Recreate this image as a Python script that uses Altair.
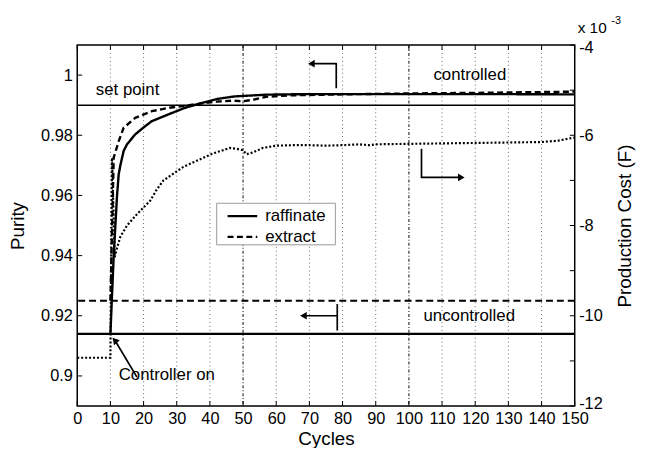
import altair as alt
import pandas as pd

# ---------------- data ----------------
raff_cycles = [10, 11, 12, 12.5, 13, 14, 15, 17.5, 20, 22.5, 27.4, 32.4, 37.4, 42.3, 47.3, 57, 70, 87, 120, 150]
raff_purity = [0.914, 0.940, 0.960, 0.967, 0.970, 0.9748, 0.977, 0.9803, 0.9826, 0.9847, 0.9869, 0.9891,
               0.9907, 0.9921, 0.9929, 0.9935, 0.9937, 0.9937, 0.9937, 0.9936]

ext_cycles = [10, 11, 12.5, 14, 17.5, 22.5, 27.4, 32.4, 37, 42, 47, 50, 53, 57, 65, 80, 100, 120, 150]
ext_purity = [0.925, 0.9726, 0.978, 0.9825, 0.9858, 0.988, 0.9891, 0.9898, 0.9905, 0.9912, 0.9915,
              0.9913, 0.9918, 0.9928, 0.9933, 0.9936, 0.9939, 0.9941, 0.9945]

cost_cycles = [0, 10, 10.5, 11.3, 12, 13, 15, 18, 20, 22, 24, 26, 28, 30, 32, 35, 38, 41, 44, 46, 48,
               50, 51, 53, 56, 60, 65, 70, 75, 80, 85, 88, 90, 100, 110, 120, 130, 140, 145, 150]
cost_value = [-10.93, -10.93, -6.5, -8.7, -8.5, -8.25, -8.0, -7.75, -7.6, -7.45, -7.2, -7.0, -6.9, -6.8,
              -6.7, -6.6, -6.5, -6.4, -6.33, -6.28, -6.3, -6.33, -6.42, -6.38, -6.28, -6.23, -6.22,
              -6.22, -6.23, -6.22, -6.2, -6.22, -6.2, -6.19, -6.18, -6.17, -6.16, -6.15, -6.12, -6.05]

uncontrolled_raff = 0.914
uncontrolled_ext = 0.925
set_point = 0.99

x_ticks = list(range(0, 151, 10))
yl_ticks = [0.90, 0.92, 0.94, 0.96, 0.98, 1.00]
yr_ticks = list(range(-12, -3))

legend_labels = ["raffinate", "extract"]

# annotations (data coordinates, purity scale)
arrow_seg = ["top", "top", "top", "right", "right", "right", "bot_v", "bot_v", "bot_h", "bot_h", "ctrl", "ctrl"]
arrow_ord = [0, 1, 2, 0, 1, 2, 0, 1, 0, 1, 0, 1]
arrow_x = [70.6, 78.1, 78.1, 103.8, 103.8, 115.8, 78.4, 78.4, 68.2, 78.4, 11.4, 18.0]
arrow_y = [1.0038, 1.0038, 0.9956, 0.9755, 0.9660, 0.9660, 0.9239, 0.9151, 0.9200, 0.9200, 0.9118, 0.8996]

head_x = [70.6, 115.8, 68.2, 11.3]
head_y = [1.0038, 0.9660, 0.9200, 0.9119]
head_shape = ["triangle-left", "triangle-right", "triangle-left", "triangle-up"]
head_angle = [0, 0, 0, 319]

text_label = ["set point", "controlled", "uncontrolled", "Controller on"]
text_x = [5.6, 107.4, 104.4, 12.5]
text_y = [0.9950, 1.0000, 0.9200, 0.9003]

# ---------------- frames ----------------
controlled = pd.concat([
    pd.DataFrame({"cycle": raff_cycles, "purity": raff_purity, "series": "raffinate"}),
    pd.DataFrame({"cycle": ext_cycles, "purity": ext_purity, "series": "extract"}),
])
cost_df = pd.DataFrame({"cycle": cost_cycles, "cost": cost_value})
grid_df = pd.DataFrame({"cycle": [c for c in x_ticks if 0 < c < 150]})
grid_df["major"] = grid_df["cycle"].isin([50, 100])
xt_df = pd.DataFrame({"cycle": x_ticks})
ylt_df = pd.DataFrame({"purity": yl_ticks})
yrt_df = pd.DataFrame({"cost": yr_ticks})
arrow_df = pd.DataFrame({"seg": arrow_seg, "ord": arrow_ord, "cycle": arrow_x, "purity": arrow_y})
head_df = pd.DataFrame({"cycle": head_x, "purity": head_y, "shape": head_shape, "angle": head_angle})
text_df = pd.DataFrame({"label": text_label, "cycle": text_x, "purity": text_y})

W, H = 503, 365
FONT = "Liberation Sans"
TICK_FS = 16.5

xs = alt.Scale(domain=[0, 150], nice=False, zero=False)
yls = alt.Scale(domain=[0.89, 1.01], nice=False, zero=False)
yrs = alt.Scale(domain=[-12, -4], nice=False, zero=False)

common = dict(grid=False, ticks=False, domain=False, labelOverlap=False,
              labelFontSize=TICK_FS, titleFontSize=19, titleFontWeight="normal",
              labelFont=FONT, titleFont=FONT, labelColor="black", titleColor="black")
x_axis = alt.Axis(values=x_ticks, title="Cycles", labelPadding=5, titlePadding=2, labelFlush=False, **common)
yl_axis = alt.Axis(values=yl_ticks, title="Purity", format=".2~f", labelPadding=5, titlePadding=13,
                   labelFlush=False, **common)
yr_axis = alt.Axis(values=yr_ticks, orient="right", title="Production Cost (F)",
                   labelExpr="datum.value % 2 == 0 ? datum.value : ''", labelFlush=True,
                   labelFlushOffset=5, labelPadding=4, titleAngle=270, titlePadding=33, **common)

X = alt.X("cycle:Q", scale=xs, axis=x_axis)
YL = alt.Y("purity:Q", scale=yls, axis=yl_axis)

grid = alt.Chart(grid_df).mark_rule(color="#444").encode(
    x=X,
    strokeDash=alt.condition("datum.major", alt.value([3, 2, 1, 2]), alt.value([1, 3])),
    strokeWidth=alt.condition("datum.major", alt.value(1.3), alt.value(0.8)),
)

hl_raff = alt.Chart(pd.DataFrame({"purity": [uncontrolled_raff]})).mark_rule(
    color="black", strokeWidth=2.2).encode(y=YL)
hl_ext = alt.Chart(pd.DataFrame({"purity": [uncontrolled_ext]})).mark_rule(
    color="black", strokeWidth=2.2, strokeDash=[7, 4]).encode(y=YL)
hl_sp = alt.Chart(pd.DataFrame({"purity": [set_point]})).mark_rule(
    color="black", strokeWidth=1.6).encode(y=YL)

dash_scale = alt.Scale(domain=legend_labels, range=[[1, 0], [6, 3.5]])
lines = alt.Chart(controlled).mark_line(color="black", strokeWidth=2.4).encode(
    x=X, y=YL, strokeDash=alt.StrokeDash("series:N", scale=dash_scale, legend=None))

# manual legend box (pixel layout inside the plot)
leg_df = pd.DataFrame({"series": legend_labels, "row": [0, 1]})
leg_box = alt.Chart(pd.DataFrame({"a": [0]})).mark_rect(
    fill="white", stroke="#999", strokeWidth=1).encode(
    x=alt.value(141), x2=alt.value(261), y=alt.value(160), y2=alt.value(202))
leg_sym = alt.Chart(leg_df).mark_rule(color="black", strokeWidth=2.4).encode(
    x=alt.value(152), x2=alt.value(182),
    y=alt.Y("row:Q", scale=alt.Scale(domain=[0, 1], range=[173, 194]), axis=None),
    strokeDash=alt.StrokeDash("series:N", scale=dash_scale, legend=None))
leg_txt = alt.Chart(leg_df).mark_text(align="left", baseline="middle", fontSize=17, font=FONT,
                                      color="black").encode(
    x=alt.value(190),
    y=alt.Y("row:Q", scale=alt.Scale(domain=[0, 1], range=[173, 194]), axis=None),
    text="series:N")
legend = alt.layer(leg_box, leg_sym, leg_txt).resolve_scale(y="independent")

ticks_l = alt.Chart(ylt_df).mark_rule(color="black", strokeWidth=1).encode(
    y=YL, x=alt.value(0), x2=alt.value(5))
ticks_b = alt.Chart(xt_df).mark_rule(color="black", strokeWidth=1).encode(
    x=X, y=alt.value(H), y2=alt.value(H - 5))
ticks_t = alt.Chart(xt_df).mark_rule(color="black", strokeWidth=1).encode(
    x=X, y=alt.value(0), y2=alt.value(5))

arrows = alt.Chart(arrow_df).mark_line(color="black", strokeWidth=1.7).encode(
    x=X, y=YL, detail="seg:N", order="ord:Q")
heads = alt.Chart(head_df).mark_point(filled=True, color="black", size=60, opacity=1).encode(
    x=X, y=YL, shape=alt.Shape("shape:N", scale=None), angle=alt.Angle("angle:Q", scale=None))
texts = alt.Chart(text_df).mark_text(align="left", baseline="middle", fontSize=17, font=FONT,
                                     color="black").encode(x=X, y=YL, text="label:N")

left = alt.layer(grid, hl_raff, hl_ext, hl_sp, lines, ticks_l, ticks_b, ticks_t, arrows, heads, texts)

YR = alt.Y("cost:Q", scale=yrs, axis=yr_axis)
cost_line = alt.Chart(cost_df).mark_line(color="black", strokeWidth=2.2, strokeDash=[2, 2]).encode(
    x=X, y=YR)
ticks_r = alt.Chart(yrt_df).mark_rule(color="black", strokeWidth=1).encode(
    y=YR, x=alt.value(W - 5), x2=alt.value(W))
exp_df = pd.DataFrame({"t": ["x 10", "-3"], "px": [W + 3, W + 37], "py": [-17, -24], "fs": [15.5, 11]})
expo = alt.Chart(exp_df).mark_text(align="left", baseline="middle", font=FONT, color="black").encode(
    x=alt.X("px:Q", scale=None), y=alt.Y("py:Q", scale=None), text="t:N",
    size=alt.Size("fs:Q", scale=None))

right = alt.layer(cost_line, ticks_r, expo)

chart = alt.layer(left, right, legend).resolve_scale(y="independent").properties(
    width=W, height=H,
    autosize=alt.AutoSizeParams(type="none"),
    padding={"left": 70, "top": 35, "right": 66, "bottom": 40},
    background="white",
).configure_view(stroke="black", strokeWidth=1.5)

chart.save("out.html", embed_options={"renderer": "svg", "actions": False})
